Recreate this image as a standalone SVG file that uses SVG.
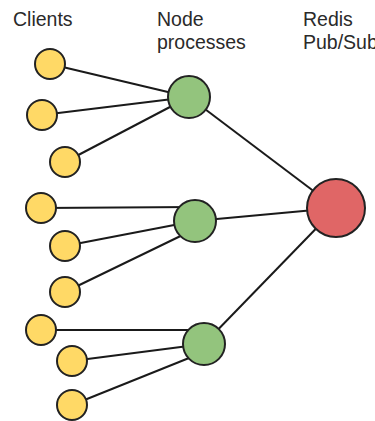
<svg xmlns="http://www.w3.org/2000/svg" width="375" height="421" viewBox="0 0 375 421">
  <style>
    .label { font-family: "Liberation Sans", Arial, sans-serif; font-size: 19.5px; fill: #2a2a2a; }
    .edge { stroke: #1a1a1a; stroke-width: 2; fill: none; }
    .client { fill: #FFD966; stroke: #222; stroke-width: 2; }
    .proc { fill: #93C47D; stroke: #222; stroke-width: 2; }
    .redis { fill: #E06666; stroke: #222; stroke-width: 2; }
  </style>
  <rect width="375" height="421" fill="#fff"/>

  <!-- column headings -->
  <text class="label" x="13" y="26">Clients</text>
  <text class="label" x="157" y="26">Node</text>
  <text class="label" x="157" y="49">processes</text>
  <text class="label" x="303" y="26">Redis</text>
  <text class="label" x="303" y="49">Pub/Sub</text>

  <!-- connectors (drawn beneath the circles) -->
  <g id="connectors">
    <line class="edge" x1="50" y1="64" x2="189" y2="97"/>
    <line class="edge" x1="42" y1="115" x2="189" y2="97"/>
    <line class="edge" x1="65" y1="162" x2="189" y2="97"/>
    <line class="edge" x1="41" y1="208" x2="195" y2="207"/>
    <line class="edge" x1="65" y1="246" x2="195" y2="221"/>
    <line class="edge" x1="65" y1="292" x2="195" y2="229"/>
    <line class="edge" x1="41" y1="330" x2="204" y2="330"/>
    <line class="edge" x1="72" y1="361" x2="204" y2="344"/>
    <line class="edge" x1="72" y1="405" x2="204" y2="352"/>
    <line class="edge" x1="189" y1="97" x2="336" y2="208"/>
    <line class="edge" x1="195" y1="221" x2="336" y2="208"/>
    <line class="edge" x1="204" y1="344" x2="336" y2="208"/>
  </g>

  <!-- clients -->
  <g id="client1"><circle class="client" cx="50" cy="64" r="15"/></g>
  <g id="client2"><circle class="client" cx="42" cy="115" r="15"/></g>
  <g id="client3"><circle class="client" cx="65" cy="162" r="15"/></g>
  <g id="client4"><circle class="client" cx="41" cy="208" r="15"/></g>
  <g id="client5"><circle class="client" cx="65" cy="246" r="15"/></g>
  <g id="client6"><circle class="client" cx="65" cy="292" r="15"/></g>
  <g id="client7"><circle class="client" cx="41" cy="330" r="15"/></g>
  <g id="client8"><circle class="client" cx="72" cy="361" r="15"/></g>
  <g id="client9"><circle class="client" cx="72" cy="405" r="15"/></g>

  <!-- node processes -->
  <g id="node1"><circle class="proc" cx="189" cy="97" r="21"/></g>
  <g id="node2"><circle class="proc" cx="195" cy="221" r="21"/></g>
  <g id="node3"><circle class="proc" cx="204" cy="344" r="21"/></g>

  <!-- redis pub/sub -->
  <g id="redis"><circle class="redis" cx="336" cy="208" r="29"/></g>
</svg>
